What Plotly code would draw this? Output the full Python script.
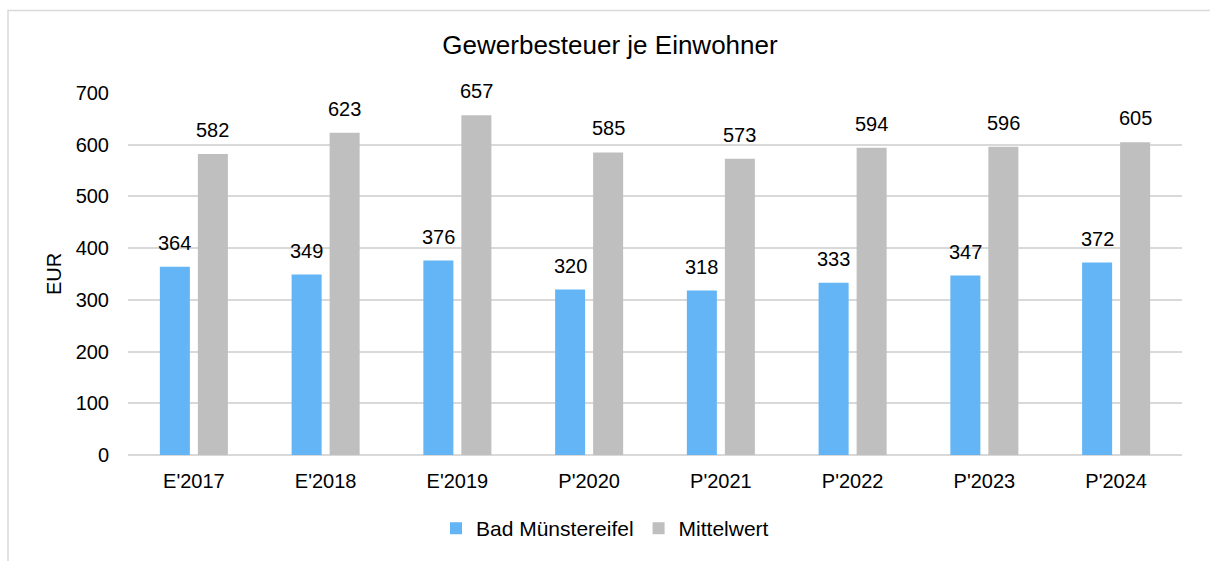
import plotly.graph_objects as go

categories = ["E'2017", "E'2018", "E'2019", "P'2020", "P'2021", "P'2022", "P'2023", "P'2024"]
bad_muenstereifel = [364, 349, 376, 320, 318, 333, 347, 372]
mittelwert = [582, 623, 657, 585, 573, 594, 596, 605]
y_ticks = [0, 100, 200, 300, 400, 500, 600, 700]

W, H = 1210, 561
L, R, T, B = 128, 28, 93, 104
pw, ph = W - L - R, H - T - B

def px_x(px):
    return (px - L) / pw

def px_y(py):
    return (H - B - py) / ph

FONT = "Liberation Sans, Arial, sans-serif"
BLUE = "#63B5F5"
GRAY = "#BFBFBF"

fig = go.Figure()
fig.add_trace(go.Bar(x=categories, y=bad_muenstereifel, name="Bad Münstereifel",
                     marker=dict(color=BLUE, line=dict(width=0))))
fig.add_trace(go.Bar(x=categories, y=mittelwert, name="Mittelwert",
                     marker=dict(color=GRAY, line=dict(width=0))))

annotations = []
for series, shift in ((bad_muenstereifel, -19), (mittelwert, 19)):
    for c, v in zip(categories, series):
        annotations.append(dict(x=c, y=v, xref="x", yref="y", text=str(v), showarrow=False,
                                xshift=shift, yshift=24, yanchor="middle",
                                font=dict(family=FONT, size=20, color="#000000")))
annotations.append(dict(x=px_x(54), y=0.5, xref="paper", yref="paper", text="EUR",
                        textangle=-90, showarrow=False, xanchor="center", yanchor="middle",
                        font=dict(family=FONT, size=20, color="#000000")))

fig.update_layout(
    width=W, height=H,
    margin=dict(l=L, r=R, t=T, b=B),
    paper_bgcolor="white", plot_bgcolor="white",
    barmode="group", bargap=0.423, bargroupgap=0.21,
    title=dict(text="Gewerbesteuer je Einwohner", x=610 / W, xref="container", xanchor="center",
               y=1 - 45 / H, yref="container", yanchor="middle",
               font=dict(family=FONT, size=26, color="#000000")),
    font=dict(family=FONT, size=20, color="#000000"),
    showlegend=True,
    legend=dict(orientation="h", x=px_x(605), xanchor="center", y=px_y(531), yanchor="middle",
                font=dict(family=FONT, size=21, color="#000000"), itemwidth=30,
                bgcolor="rgba(0,0,0,0)"),
    xaxis=dict(showgrid=False, showline=False, ticks="", ticklabelstandoff=12,
               tickfont=dict(size=20, color="#000000")),
    yaxis=dict(range=[0, 700], tickvals=y_ticks, showgrid=True, gridcolor="#D9D9D9", gridwidth=1.5,
               zeroline=True, zerolinecolor="#D9D9D9", zerolinewidth=1.5, showline=False,
               ticks="", ticklen=0, ticklabelstandoff=18, tickfont=dict(size=20, color="#000000")),
    annotations=annotations,
    shapes=[dict(type="rect", xref="paper", yref="paper",
                 x0=px_x(8), x1=px_x(1220), y0=px_y(575), y1=px_y(10),
                 line=dict(color="#D9D9D9", width=1.5), fillcolor="rgba(0,0,0,0)", layer="below")],
)

fig.write_html("out.html", config={"displayModeBar": False},
               post_script="document.body.style.margin='0';document.body.style.overflow='hidden';")
